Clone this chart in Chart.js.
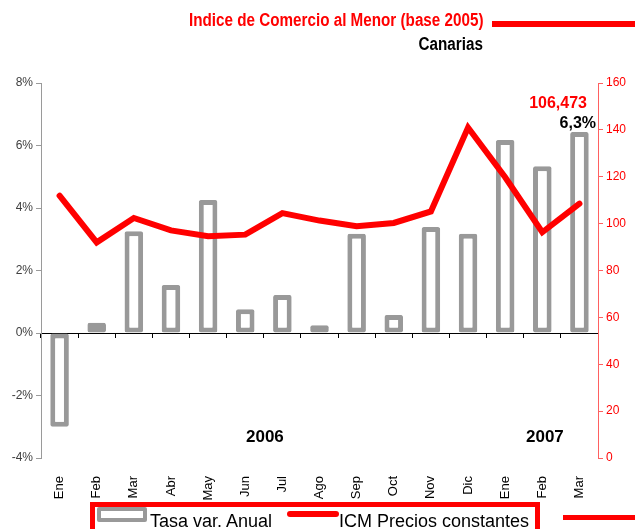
<!DOCTYPE html>
<html><head><meta charset="utf-8">
<script src="https://cdn.jsdelivr.net/npm/chart.js@4/dist/chart.umd.min.js"></script>
<style>
html,body{margin:0;padding:0;background:#fff;}
#wrap{position:relative;width:635px;height:529px;overflow:hidden;font-family:"Liberation Sans",Arial,sans-serif;}
#c{position:absolute;left:0;top:0;}
.t{position:absolute;white-space:nowrap;line-height:1;}
</style></head><body>
<div id="wrap">
<canvas id="c" width="635" height="529"></canvas>
<div class="t" id="title" style="right:152px;top:12px;font-size:17.5px;font-weight:bold;color:#ff0000;transform:scaleX(0.87);transform-origin:right center;">Indice de Comercio al Menor (base 2005)</div>
<div style="position:absolute;left:492px;top:21px;width:143px;height:6px;background:#ff0000;"></div>
<div class="t" style="right:152px;top:36px;font-size:17.5px;font-weight:bold;color:#000;transform:scaleX(0.87);transform-origin:right center;">Canarias</div>
<div class="t" style="right:48px;top:95px;font-size:16px;font-weight:bold;color:#ff0000;">106,473</div>
<div class="t" style="right:39px;top:115px;font-size:16px;font-weight:bold;color:#000;">6,3%</div>
<div class="t" style="left:246px;top:428px;font-size:17px;font-weight:bold;color:#000;">2006</div>
<div class="t" style="left:526px;top:428px;font-size:17px;font-weight:bold;color:#000;">2007</div>
<div style="position:absolute;left:90px;top:502px;width:440px;height:40px;border:5px solid #ff0000;"></div>
<div style="position:absolute;left:97px;top:507px;width:50px;height:15px;border:4px solid #999;border-radius:2px;box-sizing:border-box;background:#fff;"></div>
<div class="t" style="left:150px;top:512px;font-size:18px;color:#000;">Tasa var. Anual</div>
<div style="position:absolute;left:287px;top:511px;width:52px;height:6px;background:#ff0000;border-radius:3px;"></div>
<div class="t" style="left:339px;top:512px;font-size:18px;color:#000;">ICM Precios constantes</div>
<div style="position:absolute;left:563px;top:515px;width:72px;height:5px;background:#ff0000;"></div>
</div>
<script>
const categories = ['Ene','Feb','Mar','Abr','May','Jun','Jul','Ago','Sep','Oct','Nov','Dic','Ene','Feb','Mar'];
const tasaVarAnual = [-3.0, 0.33, 3.26, 1.54, 4.26, 0.76, 1.22, 0.25, 3.18, 0.58, 3.39, 3.18, 6.18, 5.34, 6.43];
const icmPreciosConstantes = [111.9, 92.0, 102.4, 97.1, 94.6, 95.3, 104.5, 101.3, 98.9, 100.3, 105.2, 141.0, 119.8, 96.3, 108.5];
const leftTickValues = [-4, -2, 0, 2, 4, 6, 8];
const rightTickValues = [0, 20, 40, 60, 80, 100, 120, 140, 160];

const FONT = "'Liberation Sans', Arial, sans-serif";
new Chart(document.getElementById('c'), {
  type: 'bar',
  data: {
    labels: categories,
    datasets: [
      {
        type: 'line',
        label: 'ICM Precios constantes',
        data: icmPreciosConstantes,
        yAxisID: 'y1',
        xAxisID: 'x',
        borderColor: '#ff0000',
        borderWidth: 6,
        pointRadius: 0,
        tension: 0,
        borderJoinStyle: 'miter',
        borderCapStyle: 'round',
        fill: false,
        order: 0
      },
      {
        type: 'bar',
        label: 'Tasa var. Anual',
        data: tasaVarAnual,
        yAxisID: 'y',
        xAxisID: 'x',
        backgroundColor: '#ffffff',
        borderColor: '#999999',
        borderWidth: 5,
        borderRadius: 2,
        borderSkipped: false,
        barPercentage: 0.5,
        categoryPercentage: 1.0,
        order: 1
      }
    ]
  },
  options: {
    responsive: false,
    animation: false,
    devicePixelRatio: 1,
    layout: { padding: { top: 83, left: 0, right: 0, bottom: 0 } },
    plugins: { legend: { display: false }, tooltip: { enabled: false }, title: { display: false } },
    scales: {
      x: {
        type: 'category',
        position: 'bottom',
        offset: true,
        grid: { display: false, offset: true },
        border: { display: false },
        ticks: { minRotation: 90, maxRotation: 90, autoSkip: false, color: '#000', padding: 10, font: { family: FONT, size: 13 } },
        afterFit: s => { s.height = 71; }
      },
      xz: {
        type: 'category',
        position: { y: 0 },
        offset: true,
        z: 2,
        grid: { display: true, offset: true, drawOnChartArea: false, drawTicks: true, tickLength: 4, color: '#000' },
        border: { display: true, color: '#000', width: 1 },
        ticks: { display: false }
      },
      y: {
        position: 'left',
        min: -4, max: 8,
        afterBuildTicks: s => { s.ticks = leftTickValues.map(v => ({ value: v })); },
        ticks: { color: '#404040', padding: 3, font: { family: FONT, size: 12 }, callback: v => v + '%' },
        grid: { drawOnChartArea: false, drawTicks: true, tickLength: 5, color: '#9a9a9a' },
        border: { color: '#9a9a9a', width: 1 },
        afterFit: s => { s.width = 41; }
      },
      y1: {
        position: 'right',
        min: 0, max: 160,
        afterBuildTicks: s => { s.ticks = rightTickValues.map(v => ({ value: v })); },
        ticks: { color: '#ff0000', padding: 3, font: { family: FONT, size: 12 } },
        grid: { drawOnChartArea: false, drawTicks: true, tickLength: 5, color: '#ff6060' },
        border: { color: '#ff6060', width: 1 },
        afterFit: s => { s.width = 37; }
      }
    }
  }
});
</script>
</body></html>
